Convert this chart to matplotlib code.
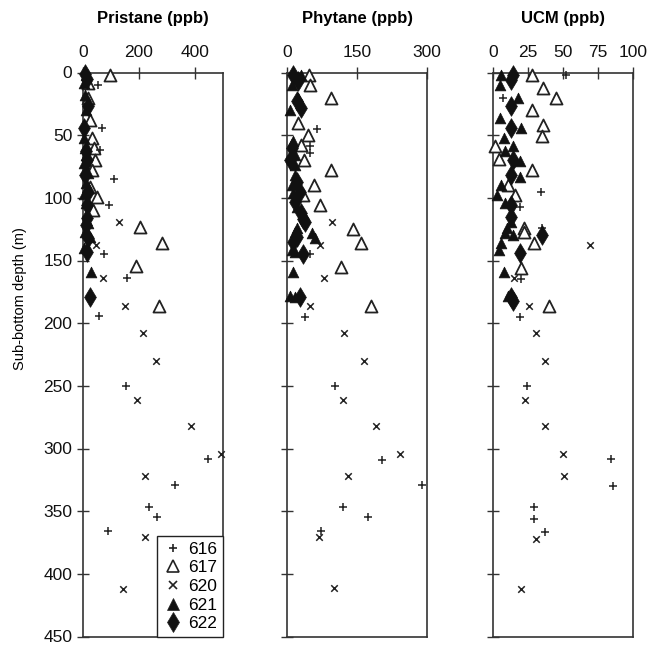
import matplotlib
matplotlib.use("Agg")
import matplotlib.pyplot as plt
from matplotlib.lines import Line2D

plt.rcParams['font.family'] = ['Liberation Sans', 'DejaVu Sans']

sites = ["616", "617", "620", "621", "622"]

# ---------------- Pristane (ppb) ----------------
pri_616_depth = [3, 10, 25, 44, 62, 85, 106, 145, 164, 194, 250, 308, 329, 347, 355, 366]
pri_616_val = [15, 56, 20, 68, 62, 112, 94, 77, 159, 59, 155, 449, 330, 238, 266, 92]
pri_617_depth = [2, 8, 20, 38, 52, 60, 70, 78, 91, 99, 110, 123, 136, 154, 186]
pri_617_val = [97, 18, 20, 25, 32, 40, 44, 32, 26, 50, 35, 205, 282, 190, 273]
pri_620_depth = [119, 138, 164, 186, 208, 230, 261, 282, 304, 322, 371, 412]
pri_620_val = [130, 47, 74, 151, 214, 261, 193, 386, 495, 222, 224, 143]
pri_621_depth = [2, 8, 18, 30, 52, 60, 66, 72, 80, 88, 97, 104, 120, 127, 131, 140, 159]
pri_621_val = [10, 6, 8, 12, 5, 8, 12, 6, 18, 10, 5, 12, 18, 8, 25, 6, 30]
pri_622_depth = [1, 5, 27, 44, 63, 70, 82, 95, 106, 116, 122, 132, 143, 179]
pri_622_val = [8, 14, 18, 3, 10, 15, 8, 18, 14, 15, 12, 20, 14, 26]

# ---------------- Phytane (ppb) ----------------
phy_616_depth = [45, 59, 64, 145, 195, 250, 309, 329, 347, 355, 366]
phy_616_val = [64, 49, 49, 49, 39, 103, 203, 290, 119, 174, 73]
phy_617_depth = [2, 10, 20, 40, 50, 58, 70, 78, 90, 98, 106, 125, 136, 155, 186]
phy_617_val = [47, 49, 94, 24, 45, 31, 37, 94, 58, 35, 71, 142, 158, 116, 181]
phy_620_depth = [119, 138, 164, 186, 208, 230, 261, 282, 304, 322, 371, 411]
phy_620_val = [96, 71, 80, 49, 122, 166, 121, 191, 242, 130, 69, 101]
phy_621_depth = [2, 10, 20, 30, 55, 66, 74, 82, 90, 96, 107, 124, 127, 128, 132, 142, 143, 159, 178, 179]
phy_621_val = [31, 10, 24, 6, 13.5, 17, 17, 17, 10, 13.5, 21, 21, 17, 53, 60, 10, 17, 13.5, 6, 17]
phy_622_depth = [2, 7, 23, 28, 60, 70, 87, 95, 103, 112, 117, 119, 131, 135, 145, 179]
phy_622_val = [13.5, 24, 21, 31, 10, 6, 21, 28, 17, 31, 35, 39, 21, 13.5, 34, 28]

# ---------------- UCM (ppb) ----------------
ucm_616_depth = [2, 20, 95, 107, 124, 165, 195, 250, 308, 330, 347, 356, 367]
ucm_616_val = [52, 7, 34, 19, 35, 20, 19, 24, 84, 85.5, 29.5, 29.5, 37]
ucm_617_depth = [2, 12, 20, 30, 42, 51, 59, 69, 78, 90, 98, 124, 127, 136, 156, 186]
ucm_617_val = [27.6, 36, 45, 28, 36, 35, 1.4, 4, 28, 11, 16, 22, 22, 29, 20, 40]
ucm_620_depth = [138, 164, 186, 208, 230, 261, 282, 304, 322, 372, 412]
ucm_620_val = [69, 15, 26, 30.5, 37, 23, 37, 50, 51, 31, 20]
ucm_621_depth = [2, 10, 20, 36, 44, 52, 59, 63, 71, 83, 90, 98, 104, 119, 124, 128, 130, 136, 142, 159, 178]
ucm_621_val = [6, 5, 18, 5, 20, 8, 14.5, 8.6, 19, 19, 6, 2.6, 8.6, 13, 10, 8.6, 14.5, 6, 4, 8, 11]
ucm_622_depth = [2, 6, 27, 44, 70, 82, 106, 115, 130, 144, 179, 182]
ucm_622_val = [14, 13, 12.6, 12.6, 14.5, 13, 13, 13, 35, 19, 13, 14]

panels = [
    ("Pristane (ppb)", [0, 500], [0, 200, 400],
     [(pri_616_depth, pri_616_val), (pri_617_depth, pri_617_val), (pri_620_depth, pri_620_val),
      (pri_621_depth, pri_621_val), (pri_622_depth, pri_622_val)]),
    ("Phytane (ppb)", [0, 300], [0, 150, 300],
     [(phy_616_depth, phy_616_val), (phy_617_depth, phy_617_val), (phy_620_depth, phy_620_val),
      (phy_621_depth, phy_621_val), (phy_622_depth, phy_622_val)]),
    ("UCM (ppb)", [0, 100], [0, 25, 50, 75, 100],
     [(ucm_616_depth, ucm_616_val), (ucm_617_depth, ucm_617_val), (ucm_620_depth, ucm_620_val),
      (ucm_621_depth, ucm_621_val), (ucm_622_depth, ucm_622_val)]),
]

styles = {
    "616": dict(marker="+", s=32, c="#222222", linewidths=1.1),
    "617": dict(marker="^", s=75, facecolors="white", edgecolors="#222222", linewidths=1.3),
    "620": dict(marker="x", s=22, c="#222222", linewidths=1.1),
    "621": dict(marker="^", s=60, c="#111111", linewidths=0.5),
    "622": dict(marker="d", s=100, c="#111111", linewidths=0.5),
}
order = ["617", "616", "620", "621", "622"]

W, H = 652, 646
fig = plt.figure(figsize=(W / 100, H / 100), dpi=100)
lefts = [82.7, 287, 493]
widths = [140, 140, 140]
top_px, bot_px = 72.5, 636.5

spine_col = "#333333"
axes = []
for i, (title, xlim, xticks, data) in enumerate(panels):
    ax = fig.add_axes([lefts[i] / W, (H - bot_px) / H, widths[i] / W, (bot_px - top_px) / H])
    axes.append(ax)
    for s in order:
        d, v = data[sites.index(s)]
        ax.scatter(v, d, clip_on=False, zorder=3, label=s, **styles[s])
    ax.set_xlim(xlim)
    ax.set_ylim(450, 0)
    ax.set_xticks(xticks)
    ax.set_yticks(range(0, 451, 50))
    ax.xaxis.tick_top()
    ax.tick_params(axis="x", direction="inout", length=8, width=1, pad=5,
                   labelsize=12.5, colors=spine_col, labelcolor="#111111")
    ax.tick_params(axis="y", direction="inout", length=9, width=1, pad=3,
                   labelsize=12.5, colors=spine_col, labelcolor="#111111")
    if i > 0:
        ax.tick_params(axis="y", labelleft=False)
    for sp in ax.spines.values():
        sp.set_color(spine_col)
        sp.set_linewidth(1.2)
    ax.set_title(title, fontsize=12, fontweight="bold", pad=36)

axes[0].set_ylabel("Sub-bottom depth (m)", fontsize=10.5)
axes[0].yaxis.set_label_coords(-0.40, 0.60)

handles = [Line2D([], [], linestyle="none", marker=styles[s]["marker"],
                  markersize=8 if s in ("617", "621") else (10 if s == "622" else 6),
                  markerfacecolor=("white" if s == "617" else "#111111"),
                  markeredgecolor="#222222",
                  markeredgewidth=1.2 if s in ("617", "616", "620") else 0.5)
           for s in sites]
leg = axes[0].legend(handles, sites, loc="lower right", borderaxespad=0,
                     fancybox=False, edgecolor="#222222", fontsize=12.5,
                     handletextpad=0.3, handlelength=1.2, labelspacing=0.2,
                     borderpad=0.3, framealpha=1)
leg.get_frame().set_linewidth(1.0)

fig.savefig("out.png", dpi=100)
